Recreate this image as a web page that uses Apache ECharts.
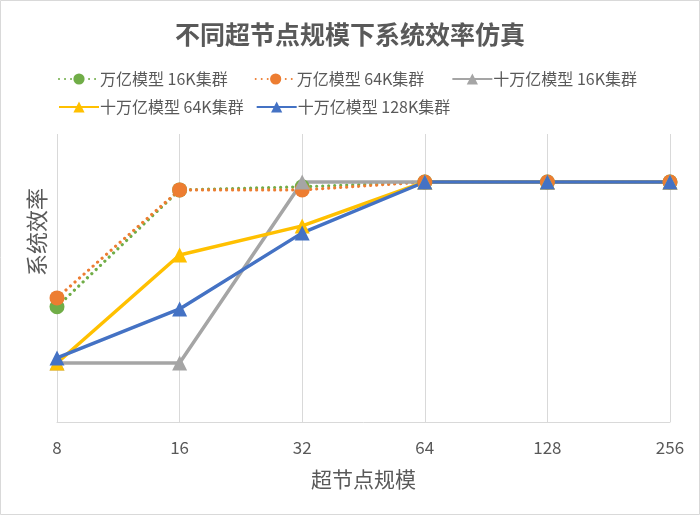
<!DOCTYPE html>
<html>
<head>
<meta charset="utf-8">
<script src="https://cdn.jsdelivr.net/npm/echarts@6/dist/echarts.min.js"></script>
<style>
  html, body { margin: 0; padding: 0; background: #fff; }
  #chart { width: 700px; height: 515px; }
</style>
</head>
<body>
<div id="chart"></div>
<script>
// 超节点规模 (x 轴类目)
const scales = ['8', '16', '32', '64', '128', '256']

// 系统效率 (相对值, 1 = 满效率)
const wanyi16k = [0.48, 0.967, 0.98, 1, 1, 1]
const wanyi64k = [0.517, 0.967, 0.967, 1, 1, 1]
const shiwanyi16k = [0.246, 0.246, 1, 1, 1, 1]
const shiwanyi64k = [0.246, 0.696, 0.817, 1, 1, 1]
const shiwanyi128k = [0.267, 0.471, 0.788, 1, 1, 1]

const names = ['万亿模型 16K集群', '万亿模型 64K集群', '十万亿模型 16K集群', '十万亿模型 64K集群', '十万亿模型 128K集群']

const font = '"Noto Sans CJK SC", "Noto Sans", sans-serif'
const textColor = '#595959'

const chart = echarts.init(document.getElementById('chart'))

const dottedSeries = (name, data, color) => ({
  name: name,
  type: 'line',
  data: data,
  symbol: 'circle',
  symbolSize: 15,
  itemStyle: { color: color },
  lineStyle: { color: color, width: 3.2, type: [0.01, 6], cap: 'round' }
})

const solidSeries = (name, data, color) => ({
  name: name,
  type: 'line',
  data: data,
  symbol: 'triangle',
  symbolSize: 15,
  itemStyle: { color: color },
  lineStyle: { color: color, width: 3.5 }
})

const legendBase = {
  orient: 'horizontal',
  left: 53,
  itemWidth: 40,
  itemHeight: 14,
  textStyle: { color: textColor, fontSize: 16, fontFamily: font, padding: [0, 0, 0, -4] }
}

const option = {
  backgroundColor: '#fff',
  animation: false,
  title: {
    text: '不同超节点规模下系统效率仿真',
    left: 'center',
    top: 17,
    textStyle: { color: textColor, fontSize: 25, fontWeight: 'bold', fontFamily: font }
  },
  legend: [
    Object.assign({}, legendBase, { data: names.slice(0, 3), top: 66, itemGap: 27 }),
    Object.assign({}, legendBase, { data: names.slice(3), top: 94, itemGap: 12 })
  ],
  grid: { left: 57, right: 30, top: 134, bottom: 93 },
  xAxis: {
    type: 'category',
    data: scales,
    boundaryGap: false,
    name: '超节点规模',
    nameLocation: 'middle',
    nameGap: 47,
    nameTextStyle: { color: textColor, fontSize: 21, fontFamily: font },
    axisLine: { lineStyle: { color: '#d9d9d9', width: 1 } },
    axisTick: { show: false },
    axisLabel: { color: textColor, fontSize: 17, fontFamily: font, margin: 17 },
    splitLine: { show: true, lineStyle: { color: '#d9d9d9', width: 1 } }
  },
  yAxis: {
    type: 'value',
    min: 0,
    max: 1.2,
    axisLine: { show: false },
    axisTick: { show: false },
    axisLabel: { show: false },
    splitLine: { show: false }
  },
  graphic: [
    {
      type: 'rect',
      shape: { x: 0.5, y: 0.5, width: 699, height: 514 },
      style: { fill: 'none', stroke: '#d9d9d9', lineWidth: 1 },
      silent: true
    },
    {
      type: 'text',
      x: 37,
      y: 232,
      rotation: Math.PI / 2,
      style: { text: '系统效率', fill: textColor, fontSize: 22, fontFamily: font, textAlign: 'center', textVerticalAlign: 'middle' }
    }
  ],
  series: [
    dottedSeries(names[0], wanyi16k, '#70AD47'),
    dottedSeries(names[1], wanyi64k, '#ED7D31'),
    solidSeries(names[2], shiwanyi16k, '#A5A5A5'),
    solidSeries(names[3], shiwanyi64k, '#FFC000'),
    solidSeries(names[4], shiwanyi128k, '#4472C4')
  ]
}

chart.setOption(option)
</script>
</body>
</html>
